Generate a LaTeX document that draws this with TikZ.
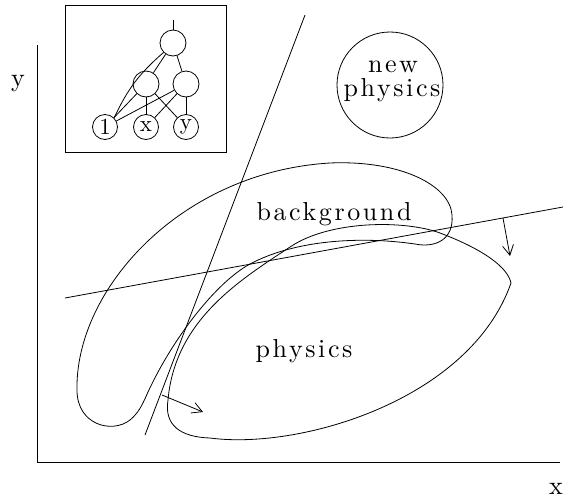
\documentclass[tikz,border=0pt]{standalone}
\usepackage{fontspec}
\usetikzlibrary{arrows.meta}
\newfontfamily\lspfont{lmroman10-regular.otf}[LetterSpace=10]
\newcommand\lsp[1]{\scalebox{2.6}{\lspfont #1}}
\begin{document}
\begin{tikzpicture}[x=1pt,y=-1pt, line width=0.8pt,
  lbl/.style={inner sep=0pt, anchor=base},
  nn/.style={circle, draw, minimum size=26pt, inner sep=0pt},
  arr/.style={-{Straight Barb[length=10pt,width=11pt]}}]
\useasboundingbox (0,0) rectangle (570,499);
% axes
\coordinate (ytop) at (37,45);
\coordinate (orig) at (37,462);
\coordinate (xend) at (560,462);
\draw (ytop) -- (orig) -- (xend);
\node[lbl] (ylab) at (18,86) {\lsp{y}};
\node[lbl] (xlab) at (556,494) {\lsp{x}};
% inset
\draw (65,5) rectangle (226,152);
\node[nn] (o) at (173,43) {};
\node[nn] (h1) at (146,84) {};
\node[nn] (h2) at (186,84) {};
\node[nn, minimum size=25pt] (i1) at (105,127) {\scalebox{2.3}{1}};
\node[nn, minimum size=25pt] (ix) at (146,127) {\scalebox{2.3}{x}};
\node[nn, minimum size=25pt] (iy) at (186,127) {\scalebox{2.3}{y}};
\coordinate (otop) at (173,20);
\draw (o.north) -- (otop);
\draw (o) -- (h1);
\draw (o) -- (h2);
\draw (o.south west) to[bend right=12] (i1.north east);
\draw (h1) -- (i1);
\draw (h1) -- (ix);
\draw (h1) -- (iy);
\draw (h2) -- (i1);
\draw (h2) -- (ix);
\draw (h2) -- (iy);
% new physics circle
\node[circle, draw, minimum size=106pt] (np) at (390,85) {};
\node[lbl] (npt1) at (393,72) {\lsp{new}};
\node[lbl] (npt2) at (392,96) {\lsp{physics}};
% background (banana)
\draw (77,390) .. controls (75,290) and (180,172) .. (330,163)
  .. controls (400,160) and (450,185) .. (452,215)
  .. controls (454,240) and (435,248) .. (415,244)
  .. controls (360,236) and (295,240) .. (250,264)
  .. controls (215,283) and (172,340) .. (148,392)
  .. controls (141,408) and (138,413) .. (130,420)
  .. controls (112,434) and (77,425) .. (77,390) -- cycle;
% physics (lens)
\draw (511,283) .. controls (508,268) and (485,250) .. (440,233)
  .. controls (405,220) and (330,220) .. (290,247)
  .. controls (240,280) and (175,320) .. (168,400)
  .. controls (164,425) and (180,437) .. (210,438)
  .. controls (300,450) and (470,400) .. (511,283) -- cycle;
\node[lbl] (bg) at (334,220) {\lsp{background}};
\node[lbl] (ph) at (304,357) {\lsp{physics}};
% cut lines
\coordinate (l1a) at (65,298);
\coordinate (l1b) at (563,207);
\draw (l1a) -- (l1b);
\coordinate (l2a) at (145,435);
\coordinate (l2b) at (305,15);
\draw (l2a) -- (l2b);
% arrows
\coordinate (a1s) at (503,218);
\coordinate (a1e) at (510,256);
\draw[arr] (a1s) -- (a1e);
\coordinate (a2s) at (162,395);
\coordinate (a2e) at (203,412);
\draw[arr] (a2s) -- (a2e);
\end{tikzpicture}
\end{document}
